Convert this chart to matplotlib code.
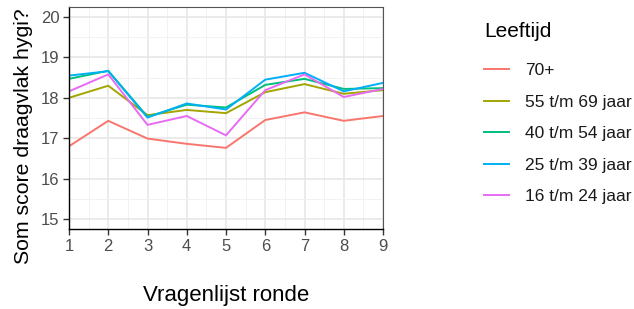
import numpy as np
import matplotlib
matplotlib.use('Agg')
import matplotlib.pyplot as plt
from matplotlib.ticker import MultipleLocator

plt.rcParams['font.family'] = ['Liberation Sans', 'DejaVu Sans']

# data
ronde = [1, 2, 3, 4, 5, 6, 7, 8, 9]
groups = ['70+', '55 t/m 69 jaar', '40 t/m 54 jaar', '25 t/m 39 jaar', '16 t/m 24 jaar']
colors = ['#F8766D', '#A3A500', '#00BF7D', '#00B0F6', '#E76BF3']
score_70 = [16.80, 17.43, 16.99, 16.86, 16.76, 17.45, 17.64, 17.43, 17.55]
score_55 = [18.00, 18.30, 17.57, 17.70, 17.62, 18.14, 18.34, 18.10, 18.19]
score_40 = [18.47, 18.67, 17.53, 17.83, 17.76, 18.32, 18.47, 18.22, 18.24]
score_25 = [18.55, 18.66, 17.51, 17.86, 17.71, 18.45, 18.62, 18.16, 18.37]
score_16 = [18.16, 18.58, 17.33, 17.55, 17.07, 18.19, 18.58, 18.02, 18.22]
series = [score_70, score_55, score_40, score_25, score_16]

W, H = 634, 309
fig = plt.figure(figsize=(W / 100, H / 100), dpi=100)
ax = fig.add_axes([69 / W, 1 - 229 / H, (383 - 69) / W, (229 - 7) / H])

handles = []
for name, col, vals in zip(groups, colors, series):
    ln, = ax.plot(ronde, vals, color=col, lw=1.4, label=name)
    handles.append(ln)

ax.set_xlim(1, 9)
ax.set_ylim(14.75, 20.25)
ax.xaxis.set_major_locator(MultipleLocator(1))
ax.xaxis.set_minor_locator(MultipleLocator(0.5))
ax.yaxis.set_major_locator(MultipleLocator(1))
ax.yaxis.set_minor_locator(MultipleLocator(0.5))
ax.grid(which='major', color='#e6e6e6', lw=1.1)
ax.grid(which='minor', color='#f2f2f2', lw=0.7)
ax.set_axisbelow(True)

for side in ['top', 'right']:
    ax.spines[side].set_color('#555555')
    ax.spines[side].set_linewidth(0.8)
for side in ['left', 'bottom']:
    ax.spines[side].set_color('black')
    ax.spines[side].set_linewidth(1.0)

ax.tick_params(which='major', length=4, width=1, color='#333333',
               labelsize=12, labelcolor='#4d4d4d', pad=3)
ax.tick_params(which='minor', length=0)

fig.text(226 / W, 1 - 296 / H, 'Vragenlijst ronde', ha='center', va='center', fontsize=16)
fig.text(24 / W, 1 - 264 / H, 'Som score draagvlak hygi?', rotation=90,
         ha='center', va='bottom', fontsize=15.3)

leg = fig.legend(handles=handles, title='Leeftijd', loc='upper left',
                 bbox_to_anchor=(477 / W, 1 - 15 / H), frameon=False,
                 fontsize=12.5, title_fontsize=15, handlelength=1.45,
                 handletextpad=0.9, labelspacing=0.94, borderaxespad=0)
leg._legend_box.align = 'left'
leg._legend_box.sep = 16
for t in leg.get_texts():
    t.set_color('#1a1a1a')

fig.savefig('out.png', dpi=100)
